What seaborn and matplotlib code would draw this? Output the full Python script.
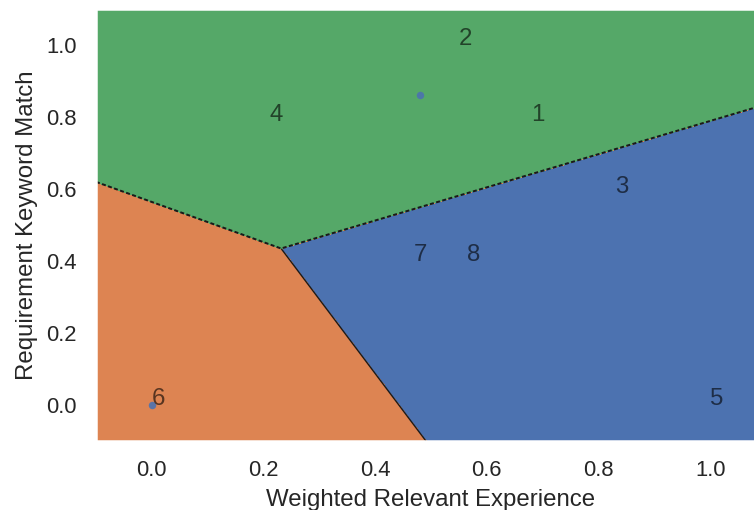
import numpy as np
import pandas as pd
import matplotlib
matplotlib.use("Agg")
import matplotlib.pyplot as plt
import seaborn as sns

# Candidate scores (min-max normalised) and their k-means cluster assignment
candidates = ["1", "2", "3", "4", "5", "6", "7", "8"]
experience = [0.68, 0.55, 0.83, 0.21, 1.00, 0.00, 0.47, 0.565]
keyword_match = [0.79, 1.00, 0.59, 0.79, 0.00, 0.00, 0.40, 0.40]
cluster = [2, 2, 0, 2, 0, 1, 0, 0]

sns.set_theme()
plt.rcParams["font.family"] = ["Liberation Sans", "DejaVu Sans"]

df = pd.DataFrame({"candidate": candidates, "experience": experience,
                   "keyword_match": keyword_match, "cluster": cluster})
centroids = df.groupby("cluster")[["experience", "keyword_match"]].mean().sort_index()
cx = centroids["experience"].to_numpy()
cy = centroids["keyword_match"].to_numpy()

# Nearest-centroid decision regions on a fine grid
xs = np.linspace(-0.1, 1.1, 700)
ys = np.linspace(-0.1, 1.1, 700)
xx, yy = np.meshgrid(xs, ys)
dist = np.stack([(xx - a) ** 2 + (yy - b) ** 2 for a, b in zip(cx, cy)])
region = dist.argmin(axis=0)

palette = sns.color_palette("deep")
fig = plt.figure(figsize=(754 / 144, 510 / 144), dpi=144)
ax = fig.add_axes([96 / 754, 1 - 441 / 510, 670 / 754, 432 / 510])

ax.contourf(xx, yy, region, levels=[-0.5, 0.5, 1.5, 2.5],
            colors=[palette[0], palette[1], palette[2]])

# Border of the top cluster (dashed) and the border between the lower two (solid)
top_edge = np.minimum(dist[0], dist[1]) - dist[2]
ax.contour(xx, yy, top_edge, levels=[0], colors="k",
           linewidths=1.0, linestyles=[(0, (2.0, 1.2))])
low_edge = np.ma.masked_where(region == 2, dist[1] - dist[0])
ax.contour(xx, yy, low_edge, levels=[0], colors="k",
           linewidths=0.7, linestyles="solid")

# Cluster centres
sns.scatterplot(x=cx, y=cy, ax=ax, s=14, color=palette[0],
                linewidth=0, alpha=0.9, zorder=3)

for name, x, y in zip(candidates, experience, keyword_match):
    ax.text(x, y, name, fontsize=12, color="black", alpha=0.6, zorder=4)

ax.set_xlim(-0.1, 1.1)
ax.set_ylim(-0.1, 1.1)
ax.set_xticks([0.0, 0.2, 0.4, 0.6, 0.8, 1.0])
ax.set_yticks([0.0, 0.2, 0.4, 0.6, 0.8, 1.0])
ax.set_xlabel("Weighted Relevant Experience")
ax.set_ylabel("Requirement Keyword Match")

fig.savefig("out.png", dpi=144)
